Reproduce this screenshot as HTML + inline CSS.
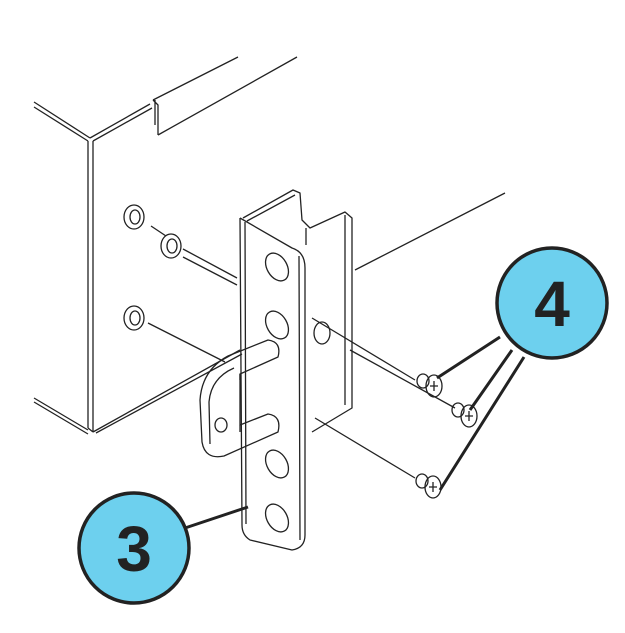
<!DOCTYPE html>
<html><head><style>html,body{margin:0;padding:0;background:#fff}svg{display:block}</style></head>
<body>
<svg width="625" height="633" viewBox="0 0 625 633" xmlns="http://www.w3.org/2000/svg">
<g fill="none" stroke="#222" stroke-width="1.3" stroke-linejoin="round">
<!-- chassis -->
<path d="M34 102 L90 138 M34 107 L88 141"/>
<path d="M90 138 L150 104 M93 141 L152 108"/>
<path d="M153 100 L238 57 M158 135 L297 57 M153 100 L158 105 L158 135 M155 100 L155 125"/>
<path d="M88 141 L88 428 M93 141 L93 432 M88 428 L93 432"/>
<path d="M34 398 L88 430 M34 402 L88 434"/>
<path d="M93 432 L240 350 M96 433 L242 354"/>
<path d="M355 270 L505 193"/>
<!-- washers -->
<ellipse cx="134" cy="217" rx="10" ry="12"/><ellipse cx="135" cy="217" rx="5" ry="7"/>
<ellipse cx="171" cy="246" rx="10" ry="12"/><ellipse cx="172" cy="246" rx="5" ry="7"/>
<ellipse cx="134" cy="318" rx="10" ry="12"/><ellipse cx="135" cy="318" rx="5" ry="7"/>
<path d="M151 226 L166 236 M183 249 L237 278 M183 257 L237 285 M148 323 L225 362"/>
<!-- bracket back flange -->
<path d="M243 218 L293 190 L300 193 L302 220 L310 228 L345 212 L352 218 L352 408 L312 432"/>
<path d="M247 221 L295 195 M345 215 L345 405 M306 228 L306 245"/>
<!-- front plate -->
<path d="M240 218 L242 525 Q242 535 250 540 L292 550 Q305 548 305 535 L305 268 Q305 252 292 248 L240 218"/>
<path d="M245 222 L246 524 M299 256 L300 540"/>
<!-- slots -->
<ellipse cx="277" cy="267" rx="10" ry="15" transform="rotate(-30 277 267)"/>
<ellipse cx="277" cy="325" rx="10" ry="15" transform="rotate(-30 277 325)"/>
<ellipse cx="277" cy="464" rx="10" ry="15" transform="rotate(-30 277 464)"/>
<ellipse cx="277" cy="518" rx="10" ry="15" transform="rotate(-30 277 518)"/>
<ellipse cx="322" cy="333" rx="8" ry="11"/>
<path d="M312 318 L415 380 M350 350 L455 408 M315 418 L415 478"/>
<!-- handle -->
<path d="M228 356 L268 340 Q282 342 278 357 L240 374 L240 425 L268 414 Q282 416 278 432 L224 456 Q205 460 202 442 L200 400 Q202 370 228 356"/>
<path d="M210 444 L209 402 Q211 378 234 368 M240 374 L240 380 M240 425 L240 432"/>
<ellipse cx="221" cy="425" rx="6" ry="7"/>
<!-- screws -->
<g>
<ellipse cx="423" cy="381" rx="6" ry="7"/><ellipse cx="434" cy="386" rx="8" ry="11"/><path d="M430 386 h8 M434 381 v10"/>
<ellipse cx="458" cy="410" rx="6" ry="7"/><ellipse cx="469" cy="416" rx="8" ry="11"/><path d="M465 416 h8 M469 411 v10"/>
<ellipse cx="422" cy="481" rx="6" ry="7"/><ellipse cx="433" cy="487" rx="8" ry="11"/><path d="M429 487 h8 M433 482 v10"/>
</g>
</g>
<!-- leaders -->
<g stroke="#222" stroke-width="3" fill="none">
<path d="M500 337 L437 378 M512 350 L470 410 M524 357 L440 490"/>
<path d="M185 528 L248 507"/>
</g>
<circle cx="552" cy="303" r="55" fill="#6dd0ee" stroke="#222" stroke-width="3.5"/>
<circle cx="134" cy="548" r="55" fill="#6dd0ee" stroke="#222" stroke-width="3.5"/>
<text x="552" y="326" font-family="Liberation Sans, sans-serif" font-weight="bold" font-size="64" text-anchor="middle" fill="#222">4</text>
<text x="134" y="571" font-family="Liberation Sans, sans-serif" font-weight="bold" font-size="64" text-anchor="middle" fill="#222">3</text>
</svg>
</body></html>
